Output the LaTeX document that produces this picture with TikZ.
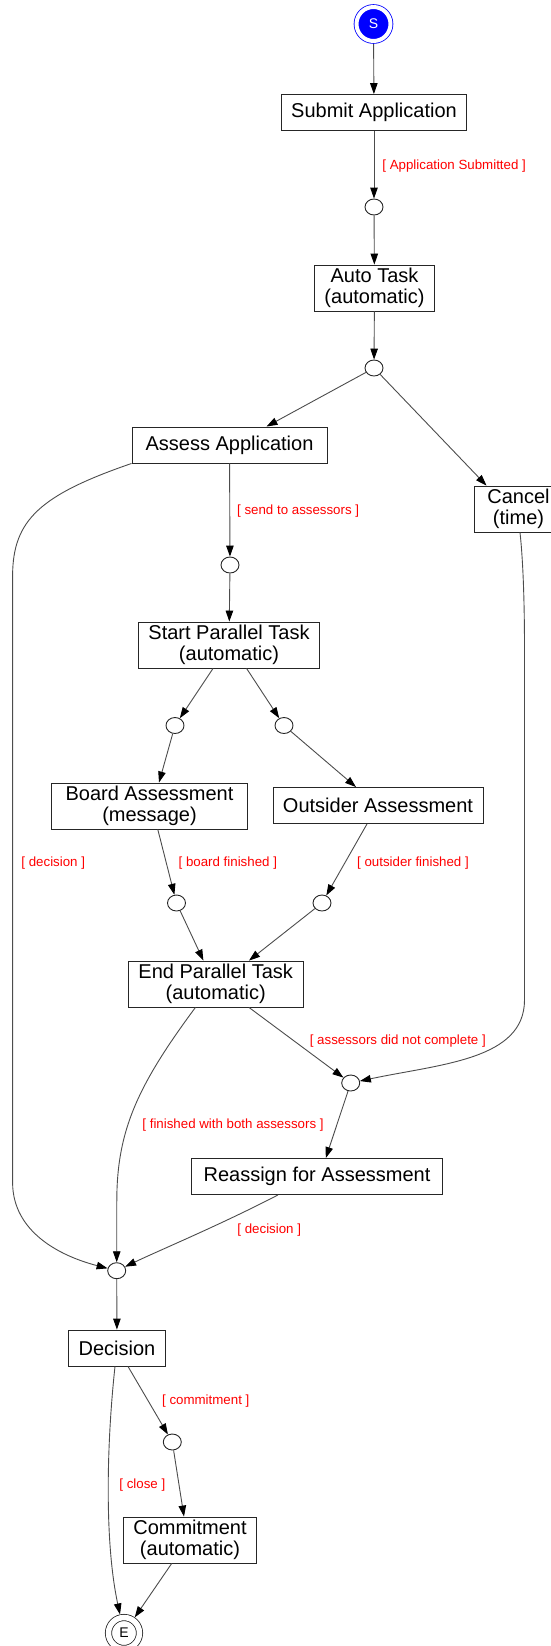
\documentclass[tikz,border=0pt]{standalone}
\usepackage{fontspec}
\setmainfont{Liberation Sans}
\usetikzlibrary{arrows.meta,shapes.geometric}

\begin{document}
\begin{tikzpicture}[x=1pt,y=-1pt,
    task/.style={draw=black!85, line width=0.9pt, fill=white, inner xsep=10pt, inner ysep=0pt,
      minimum height=36pt, align=center, font=\fontsize{20}{21}\selectfont},
    task2/.style={task, minimum height=46pt},
    junction/.style={draw=black!85, line width=0.9pt, ellipse, minimum width=18pt, minimum height=16pt, inner sep=0pt},
    lbl/.style={anchor=west, text=red, inner sep=0pt, font=\fontsize{13.3}{15}\selectfont},
    flow/.style={draw=black!70, line width=0.9pt, -{Triangle[length=11pt,width=7.5pt,color=black]}}]
    \useasboundingbox (0,0) rectangle (550,1646);
     % start and end states
     \node[circle, minimum size=34pt, inner sep=0pt, fill=blue, draw=blue, double=white, double distance=4pt,
       line width=0.8pt, outer sep=3pt, text=white, font=\fontsize{14}{14}\selectfont] (s) at (373.5,24) {S};
     \node[circle, minimum size=31pt, inner sep=0pt, draw=black!85, double=white, double distance=5.5pt,
       line width=0.8pt, outer sep=3.5pt, font=\fontsize{14}{14}\selectfont] (e) at (124,1633) {E};
     % tasks
     \node[task] (submit) at (374,112.5) {Submit Application};
     \node[task2] (auto) at (374.5,288) {Auto Task\\(automatic)};
     \node[task, minimum width=195pt] (assess) at (229.5,445) {Assess Application};
     \node[task2, minimum width=88pt] (cancel) at (518.5,509) {Cancel\\(time)};
     \node[task2] (par) at (229,645) {Start Parallel Task\\(automatic)};
     \node[task2, minimum width=196pt] (board) at (149.5,806) {Board Assessment\\(message)};
     \node[task] (outsider) at (378,805.5) {Outsider Assessment};
     \node[task2] (endpar) at (215.7,984) {End Parallel Task\\(automatic)};
     \node[task, minimum width=251pt] (reassign) at (317,1176.5) {Reassign for Assessment};
     \node[task] (decision) at (117,1348) {Decision};
     \node[task2] (commit) at (190,1540) {Commitment\\(automatic)};
     % junctions
     \node[junction] (c1) at (374,207) {};
     \node[junction] (c2) at (374,368) {};
     \node[junction] (c3) at (230,565) {};
     \node[junction] (cL) at (175,725.5) {};
     \node[junction] (cR) at (284,725.5) {};
     \node[junction] (cBL) at (176.5,903) {};
     \node[junction] (cBR) at (322,903) {};
     \node[junction] (cJ) at (350.7,1083) {};
     \node[junction] (cD) at (116.7,1270.7) {};
     \node[junction] (cC) at (172.3,1442) {};
     % transitions
     \draw[flow] (s) -- (submit);
     \draw[flow] (submit) -- (c1) node[lbl] at (382,166) {[ Application Submitted ]};
     \draw[flow] (c1) -- (auto);
     \draw[flow] (auto) -- (c2);
     \draw[flow] (c2) -- ([xshift=37pt]assess.north);
     \draw[flow] (c2) -- ([xshift=-32pt]cancel.north);
     \draw[flow] (assess) -- (c3) node[lbl] at (236.7,510.7) {[ send to assessors ]};
     \draw[flow] (assess.south west) .. controls (40,495) and (13,520) .. (12.6,575) -- (12.6,1183)
       .. controls (13,1232) and (60,1256) .. (cD) node[lbl] at (21,862.7) {[ decision ]};
     \draw[flow] (c3) -- (par);
     \draw[flow] ([xshift=-16pt]par.south) -- (cL);
     \draw[flow] ([xshift=17.6pt]par.south) -- (cR);
     \draw[flow] (cL) -- ([xshift=9.5pt]board.north);
     \draw[flow] (cR) -- ([xshift=-22pt]outsider.north);
     \draw[flow] ([xshift=8.3pt]board.south) -- (cBL) node[lbl] at (178.2,862.7) {[ board finished ]};
     \draw[flow] ([xshift=-11pt]outsider.south) -- (cBR) node[lbl] at (356.7,862.7) {[ outsider finished ]};
     \draw[flow] (cBL) -- ([xshift=-12.3pt]endpar.north);
     \draw[flow] (cBR) -- ([xshift=33.3pt]endpar.north);
     \draw[flow] ([xshift=33.3pt]endpar.south) -- (cJ) node[lbl] at (309.4,1040.7) {[ assessors did not complete ]};
     \draw[flow] ([xshift=1.5pt]cancel.south) .. controls (523,560) and (524.5,600) .. (524.5,650) -- (524.5,1000)
       .. controls (524.5,1060) and (440,1064) .. (cJ);
     \draw[flow] ([xshift=-20.3pt]endpar.south) .. controls (138,1085) and (117,1130) .. (116.8,1200) -- (cD)
       node[lbl] at (142,1124.7) {[ finished with both assessors ]};
     \draw[flow] (cJ) -- ([xshift=8.8pt]reassign.north);
     \draw[flow] ([xshift=-39pt]reassign.south) .. controls (220,1225) and (160,1250) .. (cD)
       node[lbl] at (237,1230) {[ decision ]};
     \draw[flow] (cD) -- (decision);
     \draw[flow] ([xshift=11pt]decision.south) -- (cC) node[lbl] at (161.7,1400.7) {[ commitment ]};
     \draw[flow] ([xshift=-2pt]decision.south) .. controls (107,1440) and (104,1540) .. (e)
       node[lbl] at (119,1485) {[ close ]};
     \draw[flow] (cC) -- ([xshift=-6pt]commit.north);
     \draw[flow] ([xshift=-18.3pt]commit.south) -- (e);
    \end{tikzpicture}
\end{document}
